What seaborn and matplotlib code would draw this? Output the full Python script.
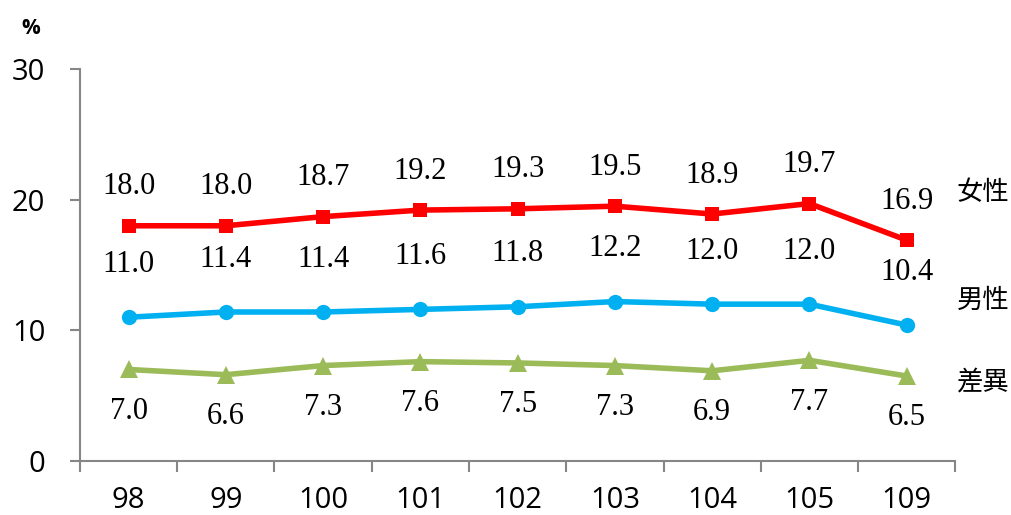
import matplotlib
matplotlib.use("Agg")
import matplotlib.pyplot as plt
import seaborn as sns
import pandas as pd
import numpy as np

years = ["98", "99", "100", "101", "102", "103", "104", "105", "109"]
female = [18.0, 18.0, 18.7, 19.2, 19.3, 19.5, 18.9, 19.7, 16.9]
male = [11.0, 11.4, 11.4, 11.6, 11.8, 12.2, 12.0, 12.0, 10.4]
diff = [7.0, 6.6, 7.3, 7.6, 7.5, 7.3, 6.9, 7.7, 6.5]
series_names = ["女性", "男性", "差異"]

sns.set_theme(style="white")
plt.rcParams["font.family"] = ["Open Sans", "DejaVu Sans"]
plt.rcParams["text.color"] = "black"
plt.rcParams["xtick.color"] = "black"
plt.rcParams["ytick.color"] = "black"

fig = plt.figure(figsize=(10.12, 5.15), dpi=100)
ax = fig.add_axes([0.079, 0.105, 0.865, 0.761])

x = np.arange(len(years))
df = pd.DataFrame({"x": np.tile(x, 3),
                   "v": female + male + diff,
                   "s": np.repeat(series_names, len(years))})

colors = {"女性": "#FF0000", "男性": "#00B0F0", "差異": "#9BBB59"}
markers = {"女性": "s", "男性": "o", "差異": "^"}
sizes = {"女性": 10, "男性": 11, "差異": 13}

for name in series_names:
    sub = df[df["s"] == name]
    sns.lineplot(data=sub, x="x", y="v", ax=ax, color=colors[name],
                 linewidth=4, marker=markers[name], markersize=sizes[name],
                 markeredgewidth=0, legend=False)

# data labels
serif = ["Liberation Serif", "DejaVu Serif"]
for xi, v in zip(x, female):
    ax.annotate(f"{v:.1f}", (xi, v), xytext=(0, 28), textcoords="offset points",
                ha="center", va="center", fontsize=22, family=serif, color="black")
for xi, v in zip(x, male):
    ax.annotate(f"{v:.1f}", (xi, v), xytext=(0, 38), textcoords="offset points",
                ha="center", va="center", fontsize=22, family=serif, color="black")
for xi, v in zip(x, diff):
    ax.annotate(f"{v:.1f}", (xi, v), xytext=(0, -30), textcoords="offset points",
                ha="center", va="center", fontsize=22, family=serif, color="black")

# series names on the right
cjk = ["Noto Sans CJK TC", "DejaVu Sans"]
name_offsets = [(55, 34), (55, 18), (55, -4)]
for name, yv, off in zip(series_names, [female[-1], male[-1], diff[-1]], name_offsets):
    ax.annotate(name, (x[-1], yv), xytext=off,
                textcoords="offset points", ha="center", va="center",
                fontsize=19, family=cjk, color="black", annotation_clip=False)

ax.set_xlim(-0.5, len(years) - 0.5)
ax.set_ylim(0, 30)
ax.set_yticks([0, 10, 20, 30])
ax.set_xticks(x)
ax.set_xticklabels(years)
ax.set_xticks(np.arange(-0.5, len(years)), minor=True)
ax.set_xlabel("")
ax.set_ylabel("")

for side in ["top", "right"]:
    ax.spines[side].set_visible(False)
for side in ["left", "bottom"]:
    ax.spines[side].set_color("#868686")
    ax.spines[side].set_linewidth(1.5)

ax.tick_params(axis="y", which="major", length=7, width=1.5, color="#868686",
               labelcolor="black", direction="out", left=True, labelsize=21, pad=18)
ax.tick_params(axis="x", which="major", length=0, labelsize=21, pad=18,
               labelcolor="black")
ax.tick_params(axis="x", which="minor", length=8, width=1.5, color="#868686",
               direction="out", bottom=True)

fig.text(0.03, 0.945, "%", fontsize=15, fontweight="bold", ha="center", va="center")

fig.savefig("out.png", dpi=100)
